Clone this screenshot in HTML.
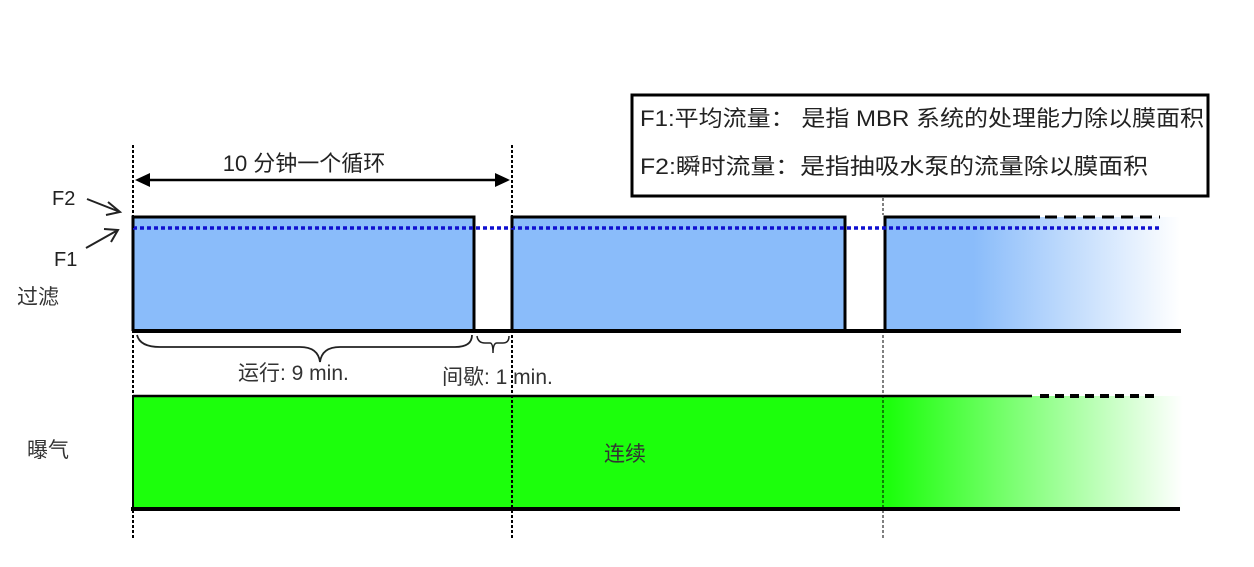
<!DOCTYPE html>
<html><head><meta charset="utf-8"><style>
body{margin:0;background:#fff;width:1254px;height:562px;overflow:hidden}
svg text{font-family:"Liberation Sans","Noto Sans CJK SC",sans-serif}
</style></head><body>
<svg width="1254" height="562" viewBox="0 0 1254 562" xmlns="http://www.w3.org/2000/svg">
<defs>
<linearGradient id="gb" x1="0" x2="1"><stop offset="0" stop-color="#8abcfa"/><stop offset="0.3" stop-color="#8abcfa"/><stop offset="1" stop-color="#fff"/></linearGradient>
<linearGradient id="gg" x1="0" x2="1"><stop offset="0" stop-color="#1cff0c"/><stop offset="0.72" stop-color="#1cff0c"/><stop offset="1" stop-color="#fff"/></linearGradient>
</defs>
<rect x="133" y="217" width="341" height="114" fill="#8abcfa"/>
<rect x="512" y="217" width="333" height="114" fill="#8abcfa"/>
<rect x="885" y="217" width="295" height="114" fill="url(#gb)"/>
<path d="M133 331V217H474V331" fill="none" stroke="#000" stroke-width="3"/>
<path d="M512 331V217H845V333" fill="none" stroke="#000" stroke-width="3"/>
<path d="M885 331V217H1040" fill="none" stroke="#000" stroke-width="3"/>
<line x1="1045" y1="217" x2="1160" y2="217" stroke="#000" stroke-width="3" stroke-dasharray="12,7"/>
<line x1="133" y1="228" x2="1160" y2="228" stroke="#1010d0" stroke-width="3.5" stroke-dasharray="4,3"/>
<line x1="133" y1="331" x2="1181" y2="331" stroke="#000" stroke-width="4"/>
<rect x="133" y="396" width="1050" height="113" fill="url(#gg)"/>
<line x1="133" y1="396" x2="1032" y2="396" stroke="#000" stroke-width="2.5"/>
<line x1="1040" y1="396" x2="1160" y2="396" stroke="#000" stroke-width="4" stroke-dasharray="9,6"/>
<line x1="133" y1="396" x2="133" y2="509" stroke="#000" stroke-width="2"/>
<line x1="131" y1="509" x2="1180" y2="509" stroke="#000" stroke-width="4"/>
<g stroke="#000" stroke-width="2" stroke-dasharray="3,2">
<line x1="133" y1="145" x2="133" y2="540"/>
<line x1="512" y1="145" x2="512" y2="540"/>
<line x1="883" y1="335" x2="883" y2="540" stroke-width="1"/>
<line x1="883" y1="198" x2="883" y2="215" stroke-width="1"/>
</g>
<line x1="145" y1="180" x2="500" y2="180" stroke="#000" stroke-width="2.5"/>
<polygon points="135,180 150,173 150,187"/>
<polygon points="510,180 495,173 495,187"/>
<text x="304" y="171" font-size="22" text-anchor="middle" fill="#222">10 分钟一个循环</text>
<text x="52" y="205" font-size="20" fill="#222">F2</text>
<text x="54" y="266" font-size="20" fill="#222">F1</text>
<path d="M87 199L120 212M108 202L120 212 106 215" fill="none" stroke="#222" stroke-width="2"/>
<path d="M86 248L118 230M104 229L118 230 111 242" fill="none" stroke="#222" stroke-width="2"/>
<text x="17" y="304" font-size="21" fill="#333">过滤</text>
<text x="27" y="457" font-size="21" fill="#333">曝气</text>
<text x="604" y="461" font-size="21" fill="#333">连续</text>
<path d="M137 335Q140 347 160 347H300Q318 347 320 362Q322 347 340 347H455Q472 347 472 335" fill="none" stroke="#222" stroke-width="1.8"/>
<path d="M477 336Q478 343 485 343H490Q493 343 493 353Q493 343 497 343H503Q509 343 509 336" fill="none" stroke="#222" stroke-width="1.5"/>
<text x="238" y="380" font-size="21" fill="#333">运行: 9 min.</text>
<text x="442" y="384" font-size="21" fill="#333">间歇: 1 min.</text>
<rect x="632" y="95" width="576" height="101" fill="#fff" stroke="#000" stroke-width="3"/>
<text x="640" y="126" font-size="22" fill="#222" textLength="564" lengthAdjust="spacingAndGlyphs">F1:平均流量：  是指 MBR 系统的处理能力除以膜面积</text>
<text x="640" y="174" font-size="22" fill="#222" textLength="508" lengthAdjust="spacingAndGlyphs">F2:瞬时流量：是指抽吸水泵的流量除以膜面积</text>
</svg>
</body></html>
